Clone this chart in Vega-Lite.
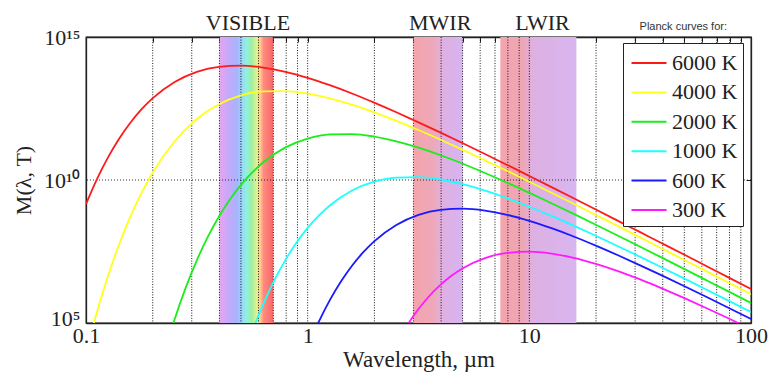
{
  "$schema": "https://vega.github.io/schema/vega-lite/v6.json",
  "width": 665,
  "height": 286,
  "autosize": {"type": "none"},
  "padding": {"left": 86, "top": 37, "right": 21, "bottom": 53},
  "background": "white",
  "title": {"text": "Planck curves for:", "anchor": "end", "frame": "group", "orient": "top", "dx": -24, "dy": 29, "offset": 9, "font": "Liberation Sans", "fontSize": 11, "fontWeight": "normal", "color": "#333"},
  "datasets": {
    "curves": [
      {"T":"6000 K","l":0.1,"m":1.44e9},{"T":"6000 K","l":0.1122,"m":1.10e10},{"T":"6000 K","l":0.1259,"m":6.32e10},{"T":"6000 K","l":0.1413,"m":2.82e11},{"T":"6000 K","l":0.1585,"m":1.005e12},{"T":"6000 K","l":0.1778,"m":2.93e12},{"T":"6000 K","l":0.1995,"m":7.14e12},{"T":"6000 K","l":0.2512,"m":2.67e13},{"T":"6000 K","l":0.3162,"m":6.03e13},{"T":"6000 K","l":0.3981,"m":9.08e13},{"T":"6000 K","l":0.5012,"m":9.98e13},{"T":"6000 K","l":0.631,"m":8.55e13},{"T":"6000 K","l":0.7943,"m":6.08e13},{"T":"6000 K","l":1,"m":3.74e13},{"T":"6000 K","l":1.259,"m":2.07e13},{"T":"6000 K","l":1.585,"m":1.06e13},{"T":"6000 K","l":1.995,"m":5.08e12},{"T":"6000 K","l":2.512,"m":2.34e12},{"T":"6000 K","l":3.162,"m":1.04e12},{"T":"6000 K","l":3.981,"m":4.53e11},{"T":"6000 K","l":5.012,"m":1.93e11},{"T":"6000 K","l":6.31,"m":8.09e10},{"T":"6000 K","l":7.943,"m":3.36e10},{"T":"6000 K","l":10,"m":1.38e10},{"T":"6000 K","l":12.59,"m":5.64e9},{"T":"6000 K","l":15.85,"m":2.29e9},{"T":"6000 K","l":19.95,"m":9.27e8},{"T":"6000 K","l":25.12,"m":3.73e8},{"T":"6000 K","l":31.62,"m":1.50e8},{"T":"6000 K","l":39.81,"m":6.03e7},{"T":"6000 K","l":50.12,"m":2.42e7},{"T":"6000 K","l":63.1,"m":9.66e6},{"T":"6000 K","l":79.43,"m":3.86e6},{"T":"6000 K","l":100,"m":1.54e6},
      {"T":"4000 K","l":0.1,"m":8.95e3},{"T":"4000 K","l":0.1122,"m":2.51e5},{"T":"4000 K","l":0.1259,"m":4.61e6},{"T":"4000 K","l":0.1413,"m":5.81e7},{"T":"4000 K","l":0.1585,"m":5.21e8},{"T":"4000 K","l":0.1778,"m":3.46e9},{"T":"4000 K","l":0.1995,"m":1.75e10},{"T":"4000 K","l":0.2512,"m":2.26e11},{"T":"4000 K","l":0.3162,"m":1.36e12},{"T":"4000 K","l":0.3981,"m":4.46e12},{"T":"4000 K","l":0.5012,"m":9.04e12},{"T":"4000 K","l":0.631,"m":1.26e13},{"T":"4000 K","l":0.7943,"m":1.29e13},{"T":"4000 K","l":1,"m":1.05e13},{"T":"4000 K","l":1.259,"m":7.21e12},{"T":"4000 K","l":1.585,"m":4.32e12},{"T":"4000 K","l":1.995,"m":2.33e12},{"T":"4000 K","l":2.512,"m":1.17e12},{"T":"4000 K","l":3.162,"m":5.58e11},{"T":"4000 K","l":3.981,"m":2.55e11},{"T":"4000 K","l":5.012,"m":1.13e11},{"T":"4000 K","l":6.31,"m":4.86e10},{"T":"4000 K","l":7.943,"m":2.07e10},{"T":"4000 K","l":10,"m":8.65e9},{"T":"4000 K","l":12.59,"m":3.58e9},{"T":"4000 K","l":15.85,"m":1.47e9},{"T":"4000 K","l":19.95,"m":5.98e8},{"T":"4000 K","l":25.12,"m":2.43e8},{"T":"4000 K","l":31.62,"m":9.82e7},{"T":"4000 K","l":39.81,"m":3.95e7},{"T":"4000 K","l":50.12,"m":1.59e7},{"T":"4000 K","l":63.1,"m":6.38e6},{"T":"4000 K","l":79.43,"m":2.55e6},{"T":"4000 K","l":100,"m":1.02e6},
      {"T":"2000 K","l":0.1995,"m":259},{"T":"2000 K","l":0.2512,"m":1.36e5},{"T":"2000 K","l":0.2818,"m":1.73e6},{"T":"2000 K","l":0.3162,"m":1.56e7},{"T":"2000 K","l":0.3548,"m":1.04e8},{"T":"2000 K","l":0.3981,"m":5.31e8},{"T":"2000 K","l":0.4467,"m":2.13e9},{"T":"2000 K","l":0.5012,"m":6.90e9},{"T":"2000 K","l":0.631,"m":4.18e10},{"T":"2000 K","l":0.7943,"m":1.38e11},{"T":"2000 K","l":1,"m":2.81e11},{"T":"2000 K","l":1.259,"m":3.92e11},{"T":"2000 K","l":1.585,"m":4.05e11},{"T":"2000 K","l":1.995,"m":3.30e11},{"T":"2000 K","l":2.512,"m":2.26e11},{"T":"2000 K","l":3.162,"m":1.36e11},{"T":"2000 K","l":3.981,"m":7.35e10},{"T":"2000 K","l":5.012,"m":3.70e10},{"T":"2000 K","l":6.31,"m":1.76e10},{"T":"2000 K","l":7.943,"m":8.04e9},{"T":"2000 K","l":10,"m":3.56e9},{"T":"2000 K","l":12.59,"m":1.53e9},{"T":"2000 K","l":15.85,"m":6.52e8},{"T":"2000 K","l":19.95,"m":2.73e8},{"T":"2000 K","l":25.12,"m":1.13e8},{"T":"2000 K","l":31.62,"m":4.63e7},{"T":"2000 K","l":39.81,"m":1.89e7},{"T":"2000 K","l":50.12,"m":7.67e6},{"T":"2000 K","l":63.1,"m":3.10e6},{"T":"2000 K","l":79.43,"m":1.25e6},{"T":"2000 K","l":100,"m":5.01e5},
      {"T":"1000 K","l":0.5012,"m":4.03e3},{"T":"1000 K","l":0.5623,"m":5.14e4},{"T":"1000 K","l":0.631,"m":4.68e5},{"T":"1000 K","l":0.7079,"m":3.14e6},{"T":"1000 K","l":0.7943,"m":1.61e7},{"T":"1000 K","l":0.8913,"m":6.49e7},{"T":"1000 K","l":1,"m":2.11e8},{"T":"1000 K","l":1.122,"m":5.68e8},{"T":"1000 K","l":1.259,"m":1.29e9},{"T":"1000 K","l":1.585,"m":4.28e9},{"T":"1000 K","l":1.995,"m":8.75e9},{"T":"1000 K","l":2.512,"m":1.22e10},{"T":"1000 K","l":3.162,"m":1.26e10},{"T":"1000 K","l":3.981,"m":1.04e10},{"T":"1000 K","l":5.012,"m":7.11e9},{"T":"1000 K","l":6.31,"m":4.27e9},{"T":"1000 K","l":7.943,"m":2.31e9},{"T":"1000 K","l":10,"m":1.16e9},{"T":"1000 K","l":12.59,"m":5.55e8},{"T":"1000 K","l":15.85,"m":2.53e8},{"T":"1000 K","l":19.95,"m":1.12e8},{"T":"1000 K","l":25.12,"m":4.84e7},{"T":"1000 K","l":31.62,"m":2.06e7},{"T":"1000 K","l":39.81,"m":8.59e6},{"T":"1000 K","l":50.12,"m":3.56e6},{"T":"1000 K","l":63.1,"m":1.46e6},{"T":"1000 K","l":79.43,"m":5.96e5},{"T":"1000 K","l":100,"m":2.42e5},
      {"T":"600 K","l":0.7943,"m":91.6},{"T":"600 K","l":1,"m":1.44e4},{"T":"600 K","l":1.122,"m":1.10e5},{"T":"600 K","l":1.259,"m":6.32e5},{"T":"600 K","l":1.413,"m":2.82e6},{"T":"600 K","l":1.585,"m":1.005e7},{"T":"600 K","l":1.778,"m":2.93e7},{"T":"600 K","l":1.995,"m":7.14e7},{"T":"600 K","l":2.512,"m":2.67e8},{"T":"600 K","l":3.162,"m":6.03e8},{"T":"600 K","l":3.981,"m":9.08e8},{"T":"600 K","l":5.012,"m":9.98e8},{"T":"600 K","l":6.31,"m":8.55e8},{"T":"600 K","l":7.943,"m":6.08e8},{"T":"600 K","l":10,"m":3.74e8},{"T":"600 K","l":12.59,"m":2.07e8},{"T":"600 K","l":15.85,"m":1.06e8},{"T":"600 K","l":19.95,"m":5.08e7},{"T":"600 K","l":25.12,"m":2.34e7},{"T":"600 K","l":31.62,"m":1.04e7},{"T":"600 K","l":39.81,"m":4.53e6},{"T":"600 K","l":50.12,"m":1.93e6},{"T":"600 K","l":63.1,"m":8.09e5},{"T":"600 K","l":79.43,"m":3.36e5},{"T":"600 K","l":100,"m":1.38e5},
      {"T":"300 K","l":1.995,"m":431},{"T":"300 K","l":2.512,"m":1.91e4},{"T":"300 K","l":2.818,"m":8.57e4},{"T":"300 K","l":3.162,"m":3.07e5},{"T":"300 K","l":3.548,"m":8.97e5},{"T":"300 K","l":3.981,"m":2.19e6},{"T":"300 K","l":4.467,"m":4.57e6},{"T":"300 K","l":5.012,"m":8.26e6},{"T":"300 K","l":6.31,"m":1.87e7},{"T":"300 K","l":7.943,"m":2.83e7},{"T":"300 K","l":10,"m":3.12e7},{"T":"300 K","l":12.59,"m":2.68e7},{"T":"300 K","l":15.85,"m":1.91e7},{"T":"300 K","l":19.95,"m":1.17e7},{"T":"300 K","l":25.12,"m":6.52e6},{"T":"300 K","l":31.62,"m":3.33e6},{"T":"300 K","l":39.81,"m":1.60e6},{"T":"300 K","l":50.12,"m":7.38e5},{"T":"300 K","l":63.1,"m":3.29e5},{"T":"300 K","l":79.43,"m":1.43e5},{"T":"300 K","l":100,"m":6.08e4}
    ]
  },
  "layer": [
    {
      "data": {"values": [{"band": "VISIBLE", "lo": 0.4, "hi": 0.7}]},
      "mark": {"type": "rect", "fill": {"gradient": "linear", "x1": 0, "y1": 0, "x2": 1, "y2": 0, "stops": [
        {"offset": 0, "color": "#e6a6f0"}, {"offset": 0.15, "color": "#c8a8fa"}, {"offset": 0.33, "color": "#a8b4ff"}, {"offset": 0.42, "color": "#98d8f8"}, {"offset": 0.5, "color": "#90f0e0"}, {"offset": 0.6, "color": "#a0f0a0"}, {"offset": 0.7, "color": "#e8f090"}, {"offset": 0.76, "color": "#ffc890"}, {"offset": 0.82, "color": "#ff8a80"}, {"offset": 1, "color": "#f86868"}]}},
      "encoding": {
        "x": {"field": "lo", "type": "quantitative", "scale": {"type": "log", "domain": [0.1, 100]}, "axis": null},
        "x2": {"field": "hi"}
      }
    },
    {
      "data": {"values": [{"band": "MWIR", "lo": 3, "hi": 5}]},
      "mark": {"type": "rect", "fill": {"gradient": "linear", "x1": 0, "y1": 0, "x2": 1, "y2": 0, "stops": [
        {"offset": 0, "color": "#f4a4ac"}, {"offset": 0.4, "color": "#eea8ba"}, {"offset": 0.6, "color": "#deb0e2"}, {"offset": 1, "color": "#d8b4f0"}]}},
      "encoding": {
        "x": {"field": "lo", "type": "quantitative", "scale": {"type": "log", "domain": [0.1, 100]}, "axis": null},
        "x2": {"field": "hi"}
      }
    },
    {
      "data": {"values": [{"band": "LWIR", "lo": 7.4, "hi": 16.3}]},
      "mark": {"type": "rect", "fill": {"gradient": "linear", "x1": 0, "y1": 0, "x2": 1, "y2": 0, "stops": [
        {"offset": 0, "color": "#f4a4ac"}, {"offset": 0.3, "color": "#eea6b6"}, {"offset": 0.42, "color": "#deb0e2"}, {"offset": 1, "color": "#d8b6f0"}]}},
      "encoding": {
        "x": {"field": "lo", "type": "quantitative", "scale": {"type": "log", "domain": [0.1, 100]}, "axis": null},
        "x2": {"field": "hi"}
      }
    },
    {
      "data": {"values": [{"v":0.2},{"v":0.3},{"v":0.4},{"v":0.5},{"v":0.6},{"v":0.7},{"v":0.8},{"v":0.9},{"v":1},{"v":2},{"v":3},{"v":4},{"v":5},{"v":6},{"v":7},{"v":8},{"v":9},{"v":10},{"v":20},{"v":30},{"v":40},{"v":50},{"v":60},{"v":70},{"v":80},{"v":90}]},
      "mark": {"type": "rule", "color": "#000", "strokeDash": [1, 1.6], "strokeWidth": 1, "opacity": 0.9},
      "encoding": {
        "x": {"field": "v", "type": "quantitative", "scale": {"type": "log", "domain": [0.1, 100]},
          "axis": {"orient": "top", "values": [0.1,0.2,0.3,0.4,0.5,0.6,0.7,0.8,0.9,1,2,3,4,5,6,7,8,9,10,20,30,40,50,60,70,80,90,100], "labels": false, "ticks": true, "tickSize": -5, "title": null, "grid": false}}
      }
    },
    {
      "data": {"values": [{"v": 1e10}]},
      "mark": {"type": "rule", "color": "#000", "strokeDash": [1, 2], "strokeWidth": 1, "opacity": 0.8},
      "encoding": {
        "y": {"field": "v", "type": "quantitative", "scale": {"type": "log", "domain": [1e5, 1e15]},
          "axis": {"orient": "right", "values": [1e5, 1e10, 1e15], "labels": false, "ticks": true, "tickSize": -5, "title": null, "grid": false}}
      }
    },
    {
      "data": {"name": "curves"},
      "mark": {"type": "line", "clip": true, "strokeWidth": 1.8, "interpolate": "monotone"},
      "encoding": {
        "x": {"field": "l", "type": "quantitative", "scale": {"type": "log", "domain": [0.1, 100]},
          "axis": {"orient": "bottom", "values": [0.1, 1, 10, 100], "format": "~g", "title": "Wavelength, µm", "titleFontSize": 23, "labelFlush": false, "ticks": false, "labelPadding": 2, "titlePadding": 2, "grid": false}},
        "y": {"field": "m", "type": "quantitative", "scale": {"type": "log", "domain": [1e5, 1e15]},
          "axis": {"orient": "left", "values": [1e5, 1e10, 1e15], "labelExpr": "datum.value >= 1e14 ? '10¹⁵' : datum.value >= 1e9 ? '10¹⁰' : '10⁵'", "title": "M(λ, T)", "ticks": false, "labelPadding": 6, "titlePadding": 8, "grid": false,
            "labelOffset": {"condition": {"test": "datum.value < 1e6", "value": -5}, "value": 0}}},
        "color": {"field": "T", "type": "nominal",
          "scale": {"domain": ["6000 K", "4000 K", "2000 K", "1000 K", "600 K", "300 K"], "range": ["#ff1a1a", "#ffff1a", "#1aee1a", "#1affff", "#1a1aff", "#ff1aff"]},
          "legend": {"title": null}}
      }
    },
    {
      "data": {"values": [{"label": "VISIBLE", "l": 0.538}, {"label": "MWIR", "l": 3.96}, {"label": "LWIR", "l": 11.46}]},
      "mark": {"type": "text", "font": "Liberation Serif, Times New Roman, serif", "fontSize": 22, "baseline": "alphabetic", "dy": -7, "color": "#222", "clip": false},
      "encoding": {
        "x": {"field": "l", "type": "quantitative", "scale": {"type": "log", "domain": [0.1, 100]}, "axis": null},
        "y": {"datum": 1e15, "type": "quantitative", "scale": {"type": "log", "domain": [1e5, 1e15]}, "axis": null},
        "text": {"field": "label"}
      }
    }
  ],
  "resolve": {"axis": {"x": "independent", "y": "independent"}},
  "config": {
    "view": {"stroke": "#222", "strokeWidth": 1.3},
    "axis": {"domain": true, "domainColor": "#222", "domainWidth": 1.3, "tickColor": "#222", "zindex": 1,
      "labelFont": "Liberation Serif, Times New Roman, serif", "labelFontSize": 22, "labelColor": "#222",
      "titleFont": "Liberation Serif, Times New Roman, serif", "titleFontSize": 22, "titleFontWeight": "normal", "titleColor": "#222"},
    "legend": {"orient": "none", "legendX": 537, "legendY": 6, "strokeColor": "#222", "fillColor": "white", "padding": 5,
      "symbolType": "M-1.25,0H1.25", "symbolSize": 784, "symbolOffset": 6, "symbolStrokeWidth": 2,
      "labelFont": "Liberation Serif, Times New Roman, serif", "labelFontSize": 22, "labelColor": "#222", "labelOffset": 8, "rowPadding": 3.4, "zindex": 1}
  }
}
